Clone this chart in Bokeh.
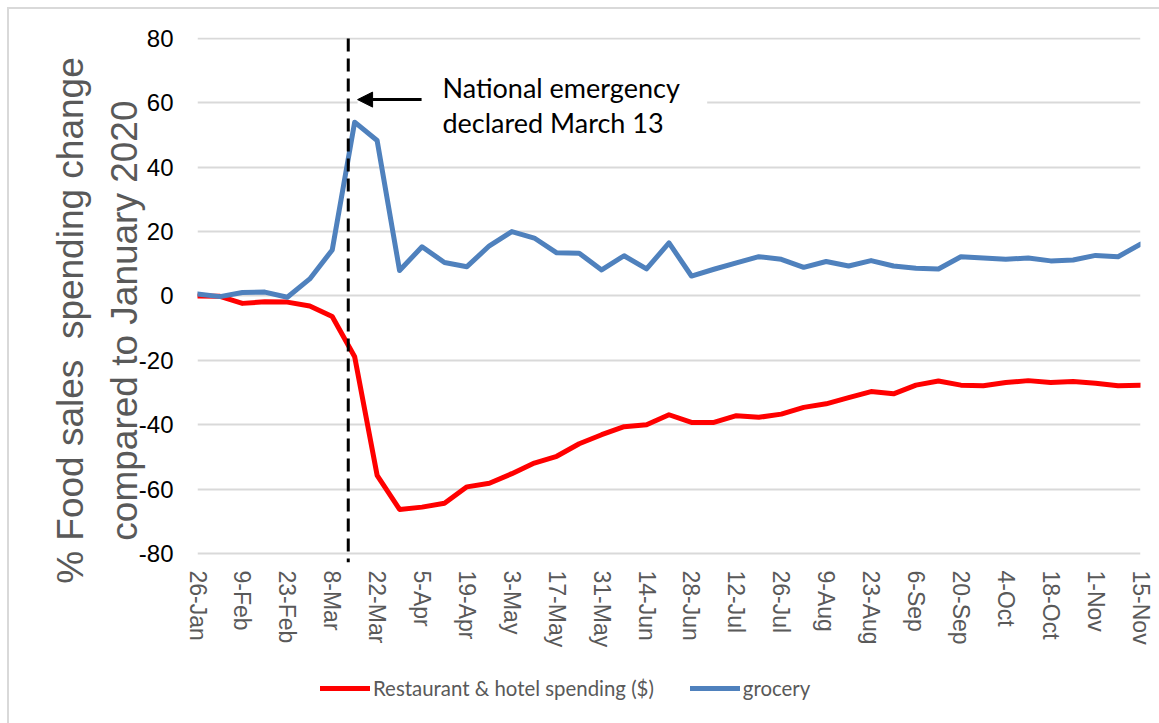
from bokeh.plotting import figure
from bokeh.layouts import column
from bokeh.models import (Range1d, FixedTicker, Legend, LegendItem, Label,
                          Arrow, NormalHead, LinearAxis)
from bokeh.embed import file_html
from bokeh.resources import INLINE

# ---------------- data ----------------
dates = ["26-Jan", "2-Feb", "9-Feb", "16-Feb", "23-Feb", "1-Mar", "8-Mar",
         "15-Mar", "22-Mar", "29-Mar", "5-Apr", "12-Apr", "19-Apr", "26-Apr",
         "3-May", "10-May", "17-May", "24-May", "31-May", "7-Jun", "14-Jun",
         "21-Jun", "28-Jun", "5-Jul", "12-Jul", "19-Jul", "26-Jul", "2-Aug",
         "9-Aug", "16-Aug", "23-Aug", "30-Aug", "6-Sep", "13-Sep", "20-Sep",
         "27-Sep", "4-Oct", "11-Oct", "18-Oct", "25-Oct", "1-Nov", "8-Nov",
         "15-Nov"]

restaurant = [0.0, -0.1, -2.3, -1.8, -1.9, -3.1, -6.4, -18.9, -55.7, -66.3,
              -65.6, -64.4, -59.3, -58.2, -55.2, -51.9, -49.8, -45.9, -43.1,
              -40.6, -40.0, -36.9, -39.3, -39.3, -37.2, -37.7, -36.7, -34.6,
              -33.5, -31.6, -29.7, -30.4, -27.7, -26.4, -27.7, -27.9, -26.9,
              -26.3, -26.9, -26.6, -27.1, -27.9, -27.7]

grocery = [0.6, -0.2, 1.1, 1.2, -0.4, 5.3, 14.3, 54.0, 48.3, 7.9, 15.3, 10.4,
           9.1, 15.6, 20.0, 18.0, 13.4, 13.3, 8.1, 12.5, 8.4, 16.5, 6.2, 8.3,
           10.3, 12.2, 11.4, 8.9, 10.7, 9.3, 11.0, 9.3, 8.6, 8.4, 12.2, 11.8,
           11.4, 11.8, 10.9, 11.2, 12.6, 12.2, 16.1]

y_ticks = [-80, -60, -40, -20, 0, 20, 40, 60, 80]
x_tick_step = 2

series_names = ["Restaurant & hotel spending ($)", "grocery"]
series_values = [restaurant, grocery]
series_colors = ["#FF0000", "#4F81BD"]
y_title_lines = ["% Food sales  spending change", "compared to January 2020"]
note_lines = ["National emergency", "declared March 13"]
emergency_week = 47 / 7.0   # 13 March, in weeks after 26 Jan

x = list(range(len(dates)))

# keep the double space visible; title sits a little below the plot centre
pad = "\u00a0" * 4
y_title = "\n".join(t.replace("  ", "\u00a0 ") + pad for t in y_title_lines)

# ---------------- main figure ----------------
p = figure(width=1150, height=655,
           x_range=Range1d(0, len(dates) - 1),
           y_range=Range1d(-82.8, 80.3),
           output_backend="svg", toolbar_location=None,
           min_border_left=188, min_border_right=19,
           min_border_top=28, min_border_bottom=102)
p.outline_line_color = None
p.background_fill_color = "white"
p.border_fill_color = "white"

p.xgrid.visible = False
p.ygrid.grid_line_color = "#d9d9d9"
p.ygrid.grid_line_width = 2

p.yaxis.ticker = FixedTicker(ticks=y_ticks)
p.yaxis.major_label_overrides = {v: str(v) for v in y_ticks}
p.yaxis.major_label_standoff = 24
p.yaxis.major_label_text_font = "Liberation Sans"
p.yaxis.major_label_text_font_size = "24px"
p.yaxis.major_label_text_color = "black"

xt = list(range(0, len(dates), x_tick_step))
p.xaxis.ticker = FixedTicker(ticks=xt)
p.xaxis.major_label_overrides = {i: dates[i] for i in xt}
p.xaxis.major_label_orientation = "vertical"
p.xaxis.major_label_standoff = 8
p.xaxis.major_label_text_font = "Liberation Sans"
p.xaxis.major_label_text_font_size = "23px"
p.xaxis.major_label_text_color = "#595959"

for ax in (p.xaxis, p.yaxis):
    ax.axis_line_color = None
    ax.major_tick_line_color = None
    ax.minor_tick_line_color = None
    ax.major_tick_out = 0
    ax.minor_tick_out = 0

# y-axis title on an extra, tick-less axis
p.extra_y_ranges = {"ttl": Range1d(0, 100)}
tax = LinearAxis(y_range_name="ttl", ticker=FixedTicker(ticks=[]),
                 axis_label=y_title,
                 axis_label_text_font="Liberation Sans",
                 axis_label_text_font_size="37px",
                 axis_label_text_font_style="normal",
                 axis_label_text_color="#595959",
                 axis_label_text_line_height=1.3,
                 axis_label_standoff=-9,
                 axis_line_color=None, major_tick_line_color=None,
                 minor_tick_line_color=None, major_tick_out=0,
                 minor_tick_out=0, major_label_standoff=0)
p.add_layout(tax, "left")

# white box behind the note (hides the gridline)
p.quad(left=[7.13], right=[22.7], bottom=[56], top=[72],
       fill_color="white", line_color=None)

for vals, col in zip(series_values, series_colors):
    p.line(x, vals, line_color=col, line_width=5,
           line_join="round", line_cap="round")

# dashed emergency line
p.line([emergency_week, emergency_week], [80, -82.8], line_color="black",
       line_width=3, line_dash="13 7")

p.add_layout(Arrow(end=NormalHead(size=15, fill_color="black",
                                  line_color="black", line_width=1),
                   x_start=9.98, y_start=61, x_end=7.13, y_end=61,
                   line_width=3, line_color="black"))

for txt, yy in zip(note_lines, [64.8, 53.9]):
    p.add_layout(Label(x=10.91, y=yy, text=txt, text_font="Lato",
                       text_font_size="27px", text_color="black",
                       text_align="left", text_baseline="middle"))

# ---------------- legend strip ----------------
# same series, but this strip's view shows none of their points
lp = figure(width=1150, height=59, x_range=Range1d(1000, 1001),
            y_range=Range1d(1000, 1001), output_backend="svg",
            toolbar_location=None, min_border=0)
lp.axis.visible = False
lp.grid.visible = False
lp.outline_line_color = None
lp.background_fill_color = "white"
lp.border_fill_color = "white"
items = []
for name, vals, col in zip(series_names, series_values, series_colors):
    r = lp.line(x, vals, line_color=col, line_width=5, line_cap="round")
    items.append(LegendItem(label=name, renderers=[r]))
legend = Legend(items=items, location=(123, 23), orientation="horizontal",
                glyph_width=50, glyph_height=20, label_standoff=3,
                spacing=36, padding=0, margin=0,
                border_line_color=None, background_fill_alpha=0,
                label_text_font="Lato", label_text_font_size="20.4px",
                label_text_color="#595959")
lp.add_layout(legend)

layout = column(p, lp, spacing=0,
                styles={"margin-left": "7px", "margin-top": "7px",
                        "border-left": "2px solid #d9d9d9",
                        "border-top": "2px solid #d9d9d9"})

open("out.html", "w").write(file_html(layout, INLINE))
